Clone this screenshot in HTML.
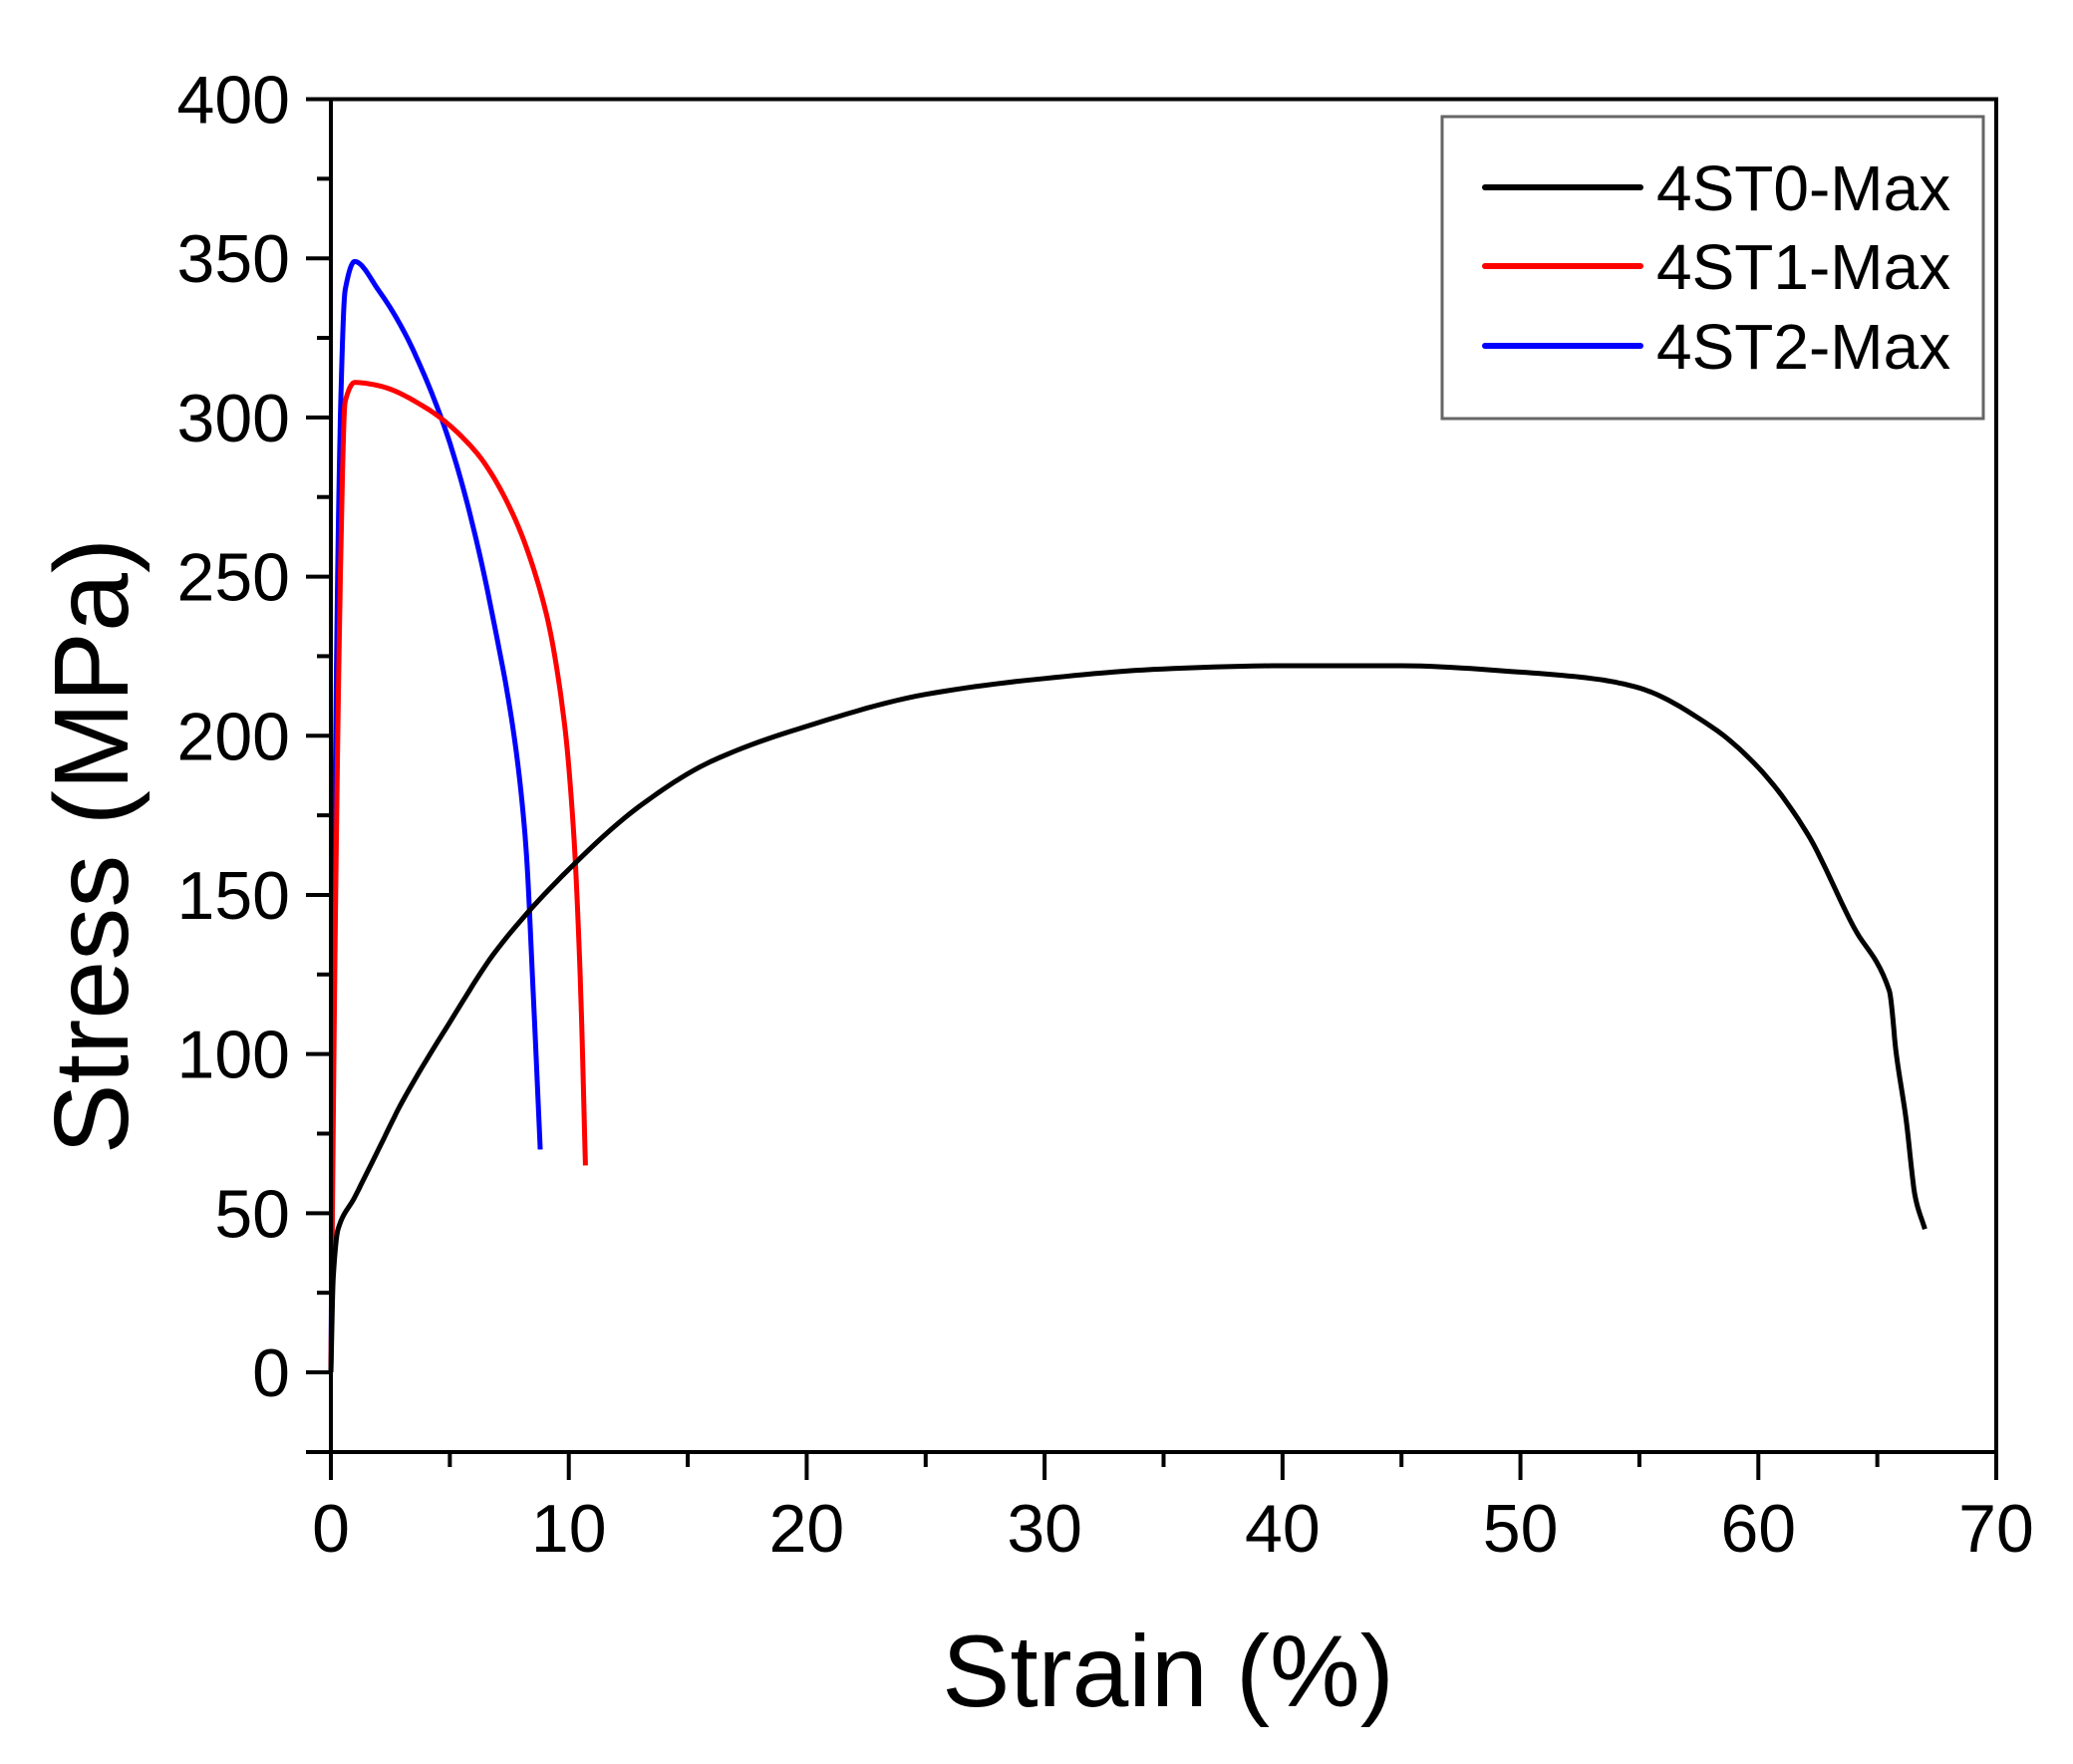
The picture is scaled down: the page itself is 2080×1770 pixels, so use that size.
<!DOCTYPE html>
<html><head><meta charset="utf-8"><style>
html,body{margin:0;padding:0;background:#fff;}
svg text{font-family:"Liberation Sans",Arial,sans-serif;fill:#000;}
</style></head><body>
<svg id="chart" width="2080" height="1765" viewBox="0 0 2080 1765" xmlns="http://www.w3.org/2000/svg">
<rect width="2080" height="1765" fill="#fff"/>
<g id="series"></g>
<g id="axes"></g>
<g id="legend"></g>
</svg>
<script>
const xTicks=[0,10,20,30,40,50,60,70];
const yTicks=[0,50,100,150,200,250,300,350,400];
const seriesNames=["4ST0-Max","4ST1-Max","4ST2-Max"];
const seriesColors=["#000000","#ff0000","#0000ff"];
const s0x=[0,0.1,0.3,1,2,3,5,7,10,13,16,20,25,30,35,40,45,50,53,55,58,60,62,64,65.5,65.8,66.2,66.6,67];
const s0y=[0,30,45,55,70,85,110,133,158,178,192,203,213,218,221,222,222,220,218,215,203,190,170,140,120,100,80,55,45];
const s1x=[0,0.2,0.4,0.6,1,2,4,6,7.5,9,9.8,10.2,10.5,10.7];
const s1y=[0,150,250,305,311,310,303,290,272,240,205,170,120,65];
const s2x=[0,0.2,0.4,0.6,1,2,3,4,5,6,7,7.7,8.2,8.5,8.8];
const s2y=[0,200,300,340,349,340,328,312,292,265,230,200,165,120,70];
const X0=332,X1=2003,Y0=1377,YTOP=99.5,YBOT=1457;
const sx=v=>X0+(X1-X0)*v/70;
const sy=v=>Y0-(Y0-YTOP)*v/400;
const NS="http://www.w3.org/2000/svg";
function mk(tag,parent){const e=document.createElementNS(NS,tag);parent.appendChild(e);return e;}
const gS=document.getElementById('series'),gA=document.getElementById('axes'),gL=document.getElementById('legend');
const allX=[s0x,s1x,s2x],allY=[s0y,s1y,s2y];
function smooth(xs,ys){
  const n=xs.length,d=[],m=[];
  for(let i=0;i<n-1;i++)d.push((ys[i+1]-ys[i])/(xs[i+1]-xs[i]));
  m[0]=d[0];m[n-1]=d[n-2];
  for(let i=1;i<n-1;i++){m[i]=(d[i-1]*d[i]<=0)?0:2/(1/d[i-1]+1/d[i]);}
  const pts=[];
  for(let i=0;i<n-1;i++){
    const h=xs[i+1]-xs[i];
    for(let k=0;k<12;k++){
      const t=k/12,t2=t*t,t3=t2*t;
      const y=(2*t3-3*t2+1)*ys[i]+(t3-2*t2+t)*h*m[i]+(-2*t3+3*t2)*ys[i+1]+(t3-t2)*h*m[i+1];
      pts.push(sx(xs[i]+t*h).toFixed(1)+','+sy(y).toFixed(1));
    }
  }
  pts.push(sx(xs[n-1])+','+sy(ys[n-1]));
  return pts.join(' ');
}
for(let i=2;i>=0;i--){
  const p=mk('polyline',gS);
  
  
  p.setAttribute('points',smooth(allX[i],allY[i]));
  p.setAttribute('fill','none');p.setAttribute('stroke',seriesColors[i]);p.setAttribute('stroke-width','5');p.setAttribute('stroke-linejoin','round');
}
const fr=mk('rect',gA);


fr.setAttribute('x',X0);fr.setAttribute('y',YTOP);fr.setAttribute('width',X1-X0);fr.setAttribute('height',YBOT-YTOP);
fr.setAttribute('fill','none');fr.setAttribute('stroke','#000');fr.setAttribute('stroke-width','4');
function line(x1,y1,x2,y2,name){const l=mk('line',gA);


l.setAttribute('x1',x1);l.setAttribute('y1',y1);l.setAttribute('x2',x2);l.setAttribute('y2',y2);l.setAttribute('stroke','#000');l.setAttribute('stroke-width','4');}
xTicks.forEach((v,i)=>{
  line(sx(v),YBOT,sx(v),YBOT+28,'x-tick');
  if(i<xTicks.length-1) line(sx(v+5),YBOT,sx(v+5),YBOT+15,'x-minor-tick');
  const t=mk('text',gA);
  
  
  t.setAttribute('x',sx(v));t.setAttribute('y',1557);t.setAttribute('text-anchor','middle');t.setAttribute('font-size','68');t.textContent=v;
});
line(X0-25,YBOT,X0,YBOT,'y-minor-tick');
yTicks.forEach((v,i)=>{
  line(X0-25,sy(v),X0,sy(v),'y-tick');
  if(i<yTicks.length-1) line(X0-14,sy(v+25),X0,sy(v+25),'y-minor-tick');
  const t=mk('text',gA);
  
  
  t.setAttribute('x',291);t.setAttribute('y',sy(v)+24);t.setAttribute('text-anchor','end');t.setAttribute('font-size','68');t.textContent=v;
});
const xt=mk('text',gA);


xt.setAttribute('x',1172);xt.setAttribute('y',1712);xt.setAttribute('text-anchor','middle');xt.setAttribute('font-size','102');xt.textContent='Strain (%)';
const yt=mk('text',gA);


yt.setAttribute('transform','translate(128,849) rotate(-90)');yt.setAttribute('text-anchor','middle');yt.setAttribute('font-size','106');yt.textContent='Stress (MPa)';
const lb=mk('rect',gL);


lb.setAttribute('x',1447);lb.setAttribute('y',117);lb.setAttribute('width',543);lb.setAttribute('height',303);
lb.setAttribute('fill','#fff');lb.setAttribute('stroke','#666');lb.setAttribute('stroke-width','3');
const rows=[188,267,347];
seriesNames.forEach((n,i)=>{
  const l=mk('line',gL);
  
  
  l.setAttribute('x1',1490);l.setAttribute('x2',1646);l.setAttribute('y1',rows[i]);l.setAttribute('y2',rows[i]);
  l.setAttribute('stroke',seriesColors[i]);l.setAttribute('stroke-width','6');l.setAttribute('stroke-linecap','round');
  const t=mk('text',gL);
  
  
  t.setAttribute('x',1662);t.setAttribute('y',rows[i]+23);t.setAttribute('font-size','64');t.textContent=n;
});
</script>
</body></html>
